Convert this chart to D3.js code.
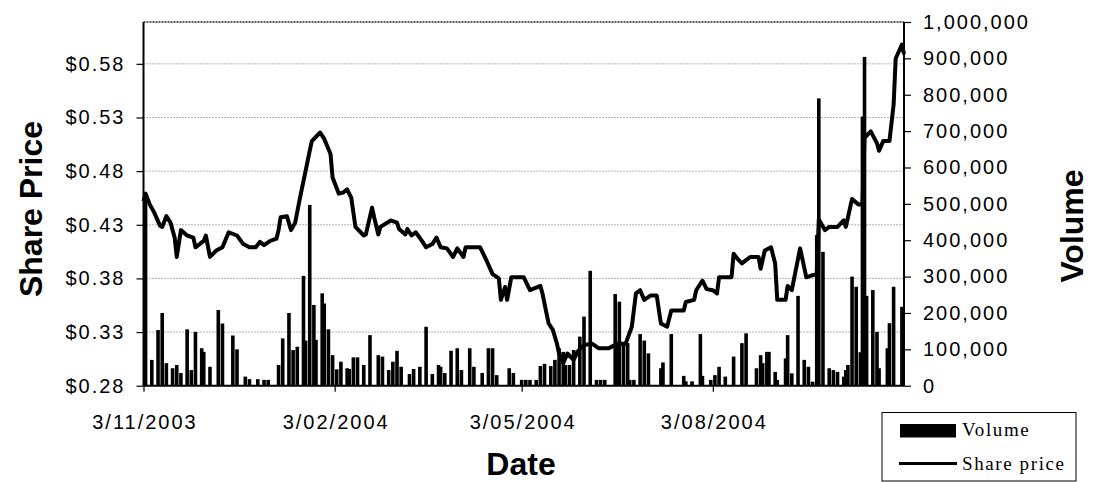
<!DOCTYPE html>
<html><head><meta charset="utf-8">
<script src="https://cdn.jsdelivr.net/npm/d3@7"></script>
<style>
html,body{margin:0;padding:0;background:#fff;}
svg{display:block;}
</style></head>
<body>
<svg id="chart" width="1094" height="482"></svg>
<script>
// ---- data ----
const priceDates = ["2003-11-03","2003-11-04","2003-11-06","2003-11-08","2003-11-11","2003-11-12","2003-11-14","2003-11-16","2003-11-18","2003-11-19","2003-11-21","2003-11-24","2003-11-27","2003-11-28","2003-12-02","2003-12-03","2003-12-05","2003-12-08","2003-12-11","2003-12-14","2003-12-18","2003-12-21","2003-12-24","2003-12-27","2003-12-29","2003-12-31","2004-01-03","2004-01-06","2004-01-07","2004-01-08","2004-01-11","2004-01-13","2004-01-15","2004-01-17","2004-01-19","2004-01-20","2004-01-22","2004-01-23","2004-01-27","2004-01-29","2004-02-01","2004-02-02","2004-02-05","2004-02-07","2004-02-09","2004-02-11","2004-02-13","2004-02-17","2004-02-18","2004-02-21","2004-02-22","2004-02-24","2004-02-25","2004-03-01","2004-03-04","2004-03-05","2004-03-08","2004-03-09","2004-03-11","2004-03-13","2004-03-16","2004-03-18","2004-03-21","2004-03-23","2004-03-25","2004-03-28","2004-03-31","2004-04-02","2004-04-05","2004-04-06","2004-04-13","2004-04-16","2004-04-19","2004-04-22","2004-04-23","2004-04-25","2004-04-26","2004-04-28","2004-05-04","2004-05-05","2004-05-07","2004-05-12","2004-05-13","2004-05-15","2004-05-16","2004-05-18","2004-05-20","2004-05-21","2004-05-23","2004-05-25","2004-05-28","2004-05-30","2004-06-02","2004-06-06","2004-06-09","2004-06-14","2004-06-18","2004-06-22","2004-06-25","2004-06-27","2004-06-29","2004-07-01","2004-07-04","2004-07-07","2004-07-09","2004-07-12","2004-07-14","2004-07-20","2004-07-21","2004-07-25","2004-07-26","2004-07-29","2004-07-31","2004-08-03","2004-08-05","2004-08-06","2004-08-12","2004-08-13","2004-08-15","2004-08-17","2004-08-19","2004-08-21","2004-08-25","2004-08-26","2004-08-28","2004-08-31","2004-09-02","2004-09-03","2004-09-07","2004-09-08","2004-09-10","2004-09-14","2004-09-17","2004-09-20","2004-09-22","2004-09-23","2004-09-26","2004-09-28","2004-10-02","2004-10-05","2004-10-06","2004-10-09","2004-10-12","2004-10-14","2004-10-15","2004-10-18","2004-10-21","2004-10-22","2004-10-24","2004-10-27","2004-10-29","2004-10-30","2004-11-02","2004-11-03"];
const priceValues = [0.452,0.459,0.449,0.442,0.429,0.428,0.438,0.432,0.418,0.400,0.425,0.420,0.418,0.409,0.415,0.420,0.400,0.406,0.409,0.423,0.420,0.412,0.409,0.409,0.414,0.411,0.415,0.417,0.425,0.437,0.438,0.425,0.432,0.452,0.471,0.480,0.499,0.508,0.516,0.510,0.496,0.474,0.459,0.460,0.463,0.455,0.428,0.420,0.421,0.446,0.437,0.421,0.428,0.434,0.432,0.426,0.421,0.426,0.420,0.423,0.415,0.409,0.412,0.418,0.409,0.408,0.400,0.408,0.400,0.409,0.409,0.397,0.384,0.380,0.360,0.372,0.360,0.381,0.381,0.377,0.369,0.373,0.366,0.347,0.338,0.332,0.319,0.310,0.301,0.310,0.304,0.312,0.318,0.319,0.315,0.315,0.319,0.319,0.335,0.366,0.369,0.360,0.364,0.364,0.338,0.335,0.350,0.350,0.358,0.360,0.369,0.378,0.370,0.369,0.366,0.381,0.381,0.403,0.398,0.394,0.397,0.400,0.400,0.389,0.406,0.409,0.394,0.360,0.360,0.373,0.369,0.408,0.381,0.383,0.384,0.435,0.425,0.428,0.428,0.434,0.428,0.454,0.449,0.449,0.511,0.517,0.506,0.499,0.508,0.508,0.542,0.585,0.598,0.589];

const volumeDates = ["2003-11-04","2003-11-07","2003-11-10","2003-11-12","2003-11-14","2003-11-17","2003-11-19","2003-11-21","2003-11-24","2003-11-26","2003-11-28","2003-12-01","2003-12-02","2003-12-05","2003-12-09","2003-12-11","2003-12-16","2003-12-18","2003-12-22","2003-12-24","2003-12-28","2003-12-31","2004-01-02","2004-01-07","2004-01-09","2004-01-12","2004-01-14","2004-01-16","2004-01-19","2004-01-20","2004-01-22","2004-01-24","2004-01-25","2004-01-28","2004-01-29","2004-01-31","2004-02-02","2004-02-04","2004-02-06","2004-02-09","2004-02-10","2004-02-12","2004-02-14","2004-02-17","2004-02-20","2004-02-24","2004-02-26","2004-02-29","2004-03-02","2004-03-04","2004-03-06","2004-03-10","2004-03-12","2004-03-15","2004-03-18","2004-03-21","2004-03-24","2004-03-25","2004-03-27","2004-03-30","2004-04-02","2004-04-04","2004-04-08","2004-04-10","2004-04-14","2004-04-17","2004-04-19","2004-04-21","2004-04-27","2004-04-29","2004-05-03","2004-05-05","2004-05-07","2004-05-10","2004-05-12","2004-05-14","2004-05-17","2004-05-19","2004-05-21","2004-05-23","2004-05-24","2004-05-26","2004-05-28","2004-05-31","2004-06-02","2004-06-05","2004-06-08","2004-06-10","2004-06-12","2004-06-17","2004-06-18","2004-06-19","2004-06-21","2004-06-23","2004-06-24","2004-06-26","2004-06-29","2004-07-01","2004-07-03","2004-07-09","2004-07-10","2004-07-14","2004-07-20","2004-07-21","2004-07-24","2004-07-28","2004-07-29","2004-08-02","2004-08-04","2004-08-06","2004-08-09","2004-08-13","2004-08-17","2004-08-19","2004-08-24","2004-08-26","2004-08-27","2004-08-29","2004-08-30","2004-09-02","2004-09-03","2004-09-07","2004-09-08","2004-09-10","2004-09-13","2004-09-16","2004-09-18","2004-09-20","2004-09-22","2004-09-23","2004-09-25","2004-09-28","2004-09-30","2004-10-02","2004-10-05","2004-10-06","2004-10-07","2004-10-09","2004-10-11","2004-10-13","2004-10-14","2004-10-15","2004-10-16","2004-10-19","2004-10-21","2004-10-22","2004-10-26","2004-10-27","2004-10-29","2004-11-02"];
const volumeValues = [530000,71000,153000,200000,62000,48000,57000,35000,155000,43000,148000,103000,93000,52000,208000,171000,138000,100000,25000,18000,18000,16000,16000,57000,130000,200000,98000,107000,302000,124000,497000,222000,126000,254000,226000,155000,84000,45000,66000,48000,46000,78000,78000,57000,139000,84000,80000,43000,66000,96000,52000,32000,46000,52000,162000,32000,57000,52000,35000,96000,103000,43000,103000,52000,35000,103000,103000,29000,48000,35000,16000,16000,16000,16000,54000,60000,54000,71000,103000,93000,57000,57000,98000,135000,190000,316000,16000,16000,16000,252000,117000,231000,117000,117000,16000,16000,142000,124000,89000,48000,64000,142000,27000,12000,12000,142000,27000,16000,29000,52000,25000,80000,117000,144000,48000,84000,62000,93000,93000,38000,16000,75000,139000,34000,247000,71000,52000,11000,414000,790000,368000,48000,43000,38000,25000,43000,57000,300000,272000,92000,740000,904000,247000,263000,148000,48000,103000,172000,272000,217000];

const priceTicks = [0.28,0.33,0.38,0.43,0.48,0.53,0.58];
const volumeTicks = [0,100000,200000,300000,400000,500000,600000,700000,800000,900000,1000000];
const dateTicks = ["2003-11-03","2004-02-03","2004-05-03","2004-08-03"];
const dateTickLabels = ["3/11/2003","3/02/2004","3/05/2004","3/08/2004"];
const dateDomain = ["2003-11-03","2004-11-03"];
const legendLabels = ["Volume","Share price"];

// ---- drawing ----
const parse = d3.timeParse("%Y-%m-%d");
const svg = d3.select("#chart");
const L = 143.5, R = 904, T = 22, B = 385.7;

const x = d3.scaleTime().domain(dateDomain.map(parse)).range([L, R]);
const yP = d3.scaleLinear().domain([0.28, 0.619]).range([B, T]);
const yV = d3.scaleLinear().domain([0, 1000000]).range([B, T]);

const price = priceDates.map((d,i)=>({date:parse(d), v:priceValues[i]}));
const vol = volumeDates.map((d,i)=>({date:parse(d), v:volumeValues[i]}));

// gridlines
svg.append("g").selectAll("line").data(priceTicks.slice(1)).join("line")
  .attr("x1", L).attr("x2", R)
  .attr("y1", d=>yP(d)).attr("y2", d=>yP(d))
  .attr("stroke", "#666").attr("stroke-width", 1).attr("stroke-dasharray", "1,2");

// plot top border
svg.append("line").attr("x1", L).attr("x2", R).attr("y1", T).attr("y2", T)
  .attr("stroke", "#222").attr("stroke-width", 1.5).attr("stroke-dasharray", "2,1");

// volume bars
const bw = 3.6;
svg.append("g").selectAll("rect").data(vol).join("rect")
  .attr("x", d=>x(d.date) - bw/2)
  .attr("width", bw)
  .attr("y", d=>yV(d.v))
  .attr("height", d=>B - yV(d.v))
  .attr("fill", "#000");

// share price line
svg.append("path").datum(price)
  .attr("fill", "none").attr("stroke", "#000").attr("stroke-width", 4)
  .attr("stroke-linejoin", "round")
  .attr("d", d3.line().x(d=>x(d.date)).y(d=>yP(d.v)));

const tickFont = "'Liberation Sans', Arial, sans-serif";

// left axis
const gL = svg.append("g").attr("transform", `translate(${L},0)`)
  .call(d3.axisLeft(yP).tickValues(priceTicks).tickFormat(d=>"$"+d.toFixed(2)).tickSize(7).tickPadding(11));
// right axis
const gR = svg.append("g").attr("transform", `translate(${R},0)`)
  .call(d3.axisRight(yV).tickValues(volumeTicks).tickFormat(d3.format(",")).tickSize(7).tickPadding(12));
// bottom axis
const gB = svg.append("g").attr("transform", `translate(0,${B})`)
  .call(d3.axisBottom(x).tickValues(dateTicks.map(parse)).tickFormat((d,i)=>dateTickLabels[i]).tickSize(6).tickPadding(23));

[gL, gR, gB].forEach(g=>{
  g.select(".domain").attr("stroke", "#000").attr("stroke-width", 2);
  g.selectAll(".tick line").attr("stroke", "#000").attr("stroke-width", 1.2);
  g.selectAll(".tick text").attr("fill", "#000")
    .style("font-family", tickFont).style("font-size", "20px").style("letter-spacing", "2px");
});
gB.selectAll(".tick text").attr("dx", "1px");
gL.select(".domain").attr("d", `M0,${T}V${B}`);
gR.select(".domain").attr("d", `M0,${T}V${B}`);
gB.select(".domain").attr("d", `M${L},0H${R}`);

// axis titles
const titleStyle = s => s.style("font-family", tickFont).style("font-weight", "bold")
  .style("font-size", "32px").attr("fill", "#000").attr("text-anchor", "middle");
svg.append("text").text("Share Price").call(titleStyle)
  .attr("transform", "translate(42,209) rotate(-90)");
svg.append("text").text("Volume").call(titleStyle)
  .attr("transform", "translate(1083,226) rotate(-90)");
svg.append("text").text("Date").call(titleStyle)
  .attr("x", 521).attr("y", 475);

// legend
const lg = svg.append("g");
lg.append("rect").attr("x", 882).attr("y", 412.5).attr("width", 194).attr("height", 68.5)
  .attr("fill", "#fff").attr("stroke", "#000").attr("stroke-width", 1);
lg.append("rect").attr("x", 900).attr("y", 424).attr("width", 56).attr("height", 13.5).attr("fill", "#000");
lg.append("line").attr("x1", 899).attr("x2", 957).attr("y1", 463.5).attr("y2", 463.5)
  .attr("stroke", "#000").attr("stroke-width", 3);
lg.selectAll("text.lt").data(legendLabels).join("text").attr("class", "lt")
  .attr("x", 962).attr("y", (d,i)=> i===0 ? 436 : 469.5)
  .text(d=>d)
  .style("font-family", "'Liberation Serif', 'Times New Roman', serif")
  .style("font-size", "19px").style("letter-spacing", "1.6px").attr("fill", "#000");
</script>
</body></html>
